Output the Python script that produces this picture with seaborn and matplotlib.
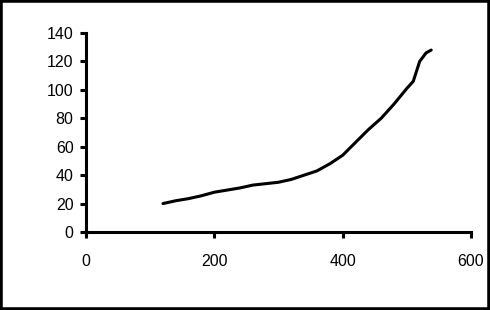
import matplotlib
matplotlib.use("Agg")
import matplotlib.pyplot as plt
import seaborn as sns
import pandas as pd
from matplotlib.patches import Rectangle

x_values = [120, 140, 160, 180, 200, 220, 240, 260, 280, 300, 320, 340, 360, 380,
            400, 420, 440, 460, 480, 500, 510, 520, 530, 538]
y_values = [20, 22, 23.5, 25.5, 28, 29.5, 31, 33, 34, 35, 37, 40, 43, 48,
            54, 63, 72, 80, 90, 101, 106, 120, 126, 128]
x_ticks = [0, 200, 400, 600]
y_ticks = [0, 20, 40, 60, 80, 100, 120, 140]

sns.set_style("ticks")
plt.rcParams['font.family'] = ['Liberation Sans', 'DejaVu Sans']

df = pd.DataFrame({"x": x_values, "y": y_values})

fig = plt.figure(figsize=(4.9, 3.1), dpi=100)
ax = fig.add_axes([86/490, 1-232/310, (471-86)/490, (232-33)/310])
sns.lineplot(data=df, x="x", y="y", ax=ax, color="black", linewidth=2.2, sort=False)

ax.set_xlim(0, 600)
ax.set_ylim(0, 140)
ax.set_xticks(x_ticks)
ax.set_yticks(y_ticks)
ax.set_xlabel("")
ax.set_ylabel("")
for s in ["top", "right"]:
    ax.spines[s].set_visible(False)
for s in ["left", "bottom"]:
    ax.spines[s].set_linewidth(2.2)
    ax.spines[s].set_color("black")
ax.tick_params(axis="both", direction="out", length=4, width=2.2, colors="black",
               labelsize=11.5, labelcolor="black")
ax.tick_params(axis="x", pad=12)
ax.tick_params(axis="y", pad=5)

fig.patches.append(Rectangle((0, 0), 1, 1, transform=fig.transFigure, fill=False,
                             edgecolor="black", linewidth=4, zorder=10))
fig.savefig("out.png", dpi=100)
